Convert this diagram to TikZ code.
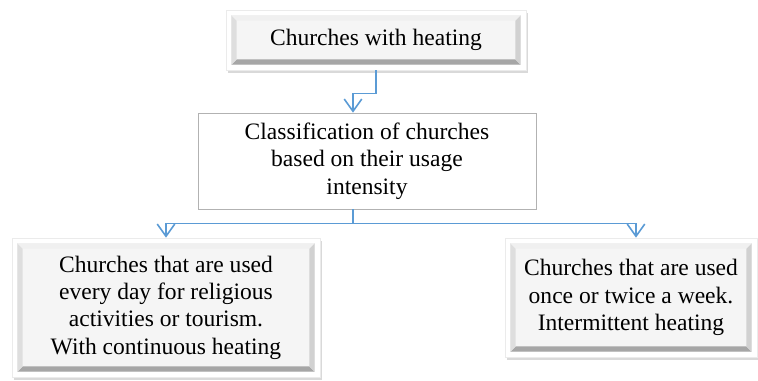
\documentclass[tikz,border=0pt]{standalone}
\usepackage{fontspec}
\setmainfont{Liberation Serif}
\usepackage{tikz}
\usetikzlibrary{arrows.meta, positioning, calc, shadows}
\definecolor{linkblue}{RGB}{91,155,213}

\begin{document}
\begin{tikzpicture}[x=0.02cm,y=-0.02cm,>={Straight Barb[length=7pt,width=10pt]},
        font=\fontsize{13.4}{15.6}\selectfont,
        bevel/.style={draw=black!8,fill=white,align=center,inner sep=0pt,
            drop shadow={shadow xshift=1pt,shadow yshift=-1.5pt,opacity=0.15,fill=black},
            path picture={
                \path (path picture bounding box.south west) ++(3pt,3pt) coordinate (bA)
                      (path picture bounding box.north east) ++(-3pt,-3pt) coordinate (bC);
                \coordinate (bB) at (bC |- bA);
                \coordinate (bD) at (bA |- bC);
                \fill[black!4] (bA) rectangle (bC);
                \fill[black!35] (bA) -- (bB) -- ([shift={(-3pt,3pt)}]bB) -- ([shift={(3pt,3pt)}]bA) -- cycle;
                \fill[black!18] (bB) -- (bC) -- ([shift={(-3pt,-3pt)}]bC) -- ([shift={(-3pt,3pt)}]bB) -- cycle;
                \fill[black!13] (bA) -- (bD) -- ([shift={(3pt,-3pt)}]bD) -- ([shift={(3pt,3pt)}]bA) -- cycle;
                \fill[black!6] (bD) -- (bC) -- ([shift={(-3pt,-3pt)}]bC) -- ([shift={(3pt,-3pt)}]bD) -- cycle;
            }},
        plain/.style={draw=black!30,fill=white,align=center,inner sep=0pt},
        link/.style={draw=linkblue,line width=0.9pt}]

    \useasboundingbox (0,0) rectangle (758,381);

    \node[bevel,minimum width=6cm,minimum height=1.2cm] (heat) at (376,40) {Churches with heating};
    \node[plain,minimum width=6.76cm,minimum height=1.92cm] (class) at (367,161)
        {Classification of churches\\based on their usage\\intensity};
    \node[bevel,minimum width=6.16cm,minimum height=2.78cm] (daily) at (166,307.5)
        {Churches that are used\\every day for religious\\activities or tourism.\\With continuous heating};
    \node[bevel,minimum width=5.04cm,minimum height=2.38cm] (weekly) at (631,297.5)
        {Churches that are used\\once or twice a week.\\Intermittent heating};

    \coordinate (split) at ($(class.south)+(-14,14)$);

    \draw[link,->] (heat.south) -- ++(0,23) -| ($(class.north)+(-14,0)$);
    \draw[link] ($(class.south)+(-14,0)$) -- (split);
    \draw[link,->] (split) -| (daily.north);
    \draw[link,->] (split) -| ($(weekly.north)+(5,0)$);
\end{tikzpicture}
\end{document}
